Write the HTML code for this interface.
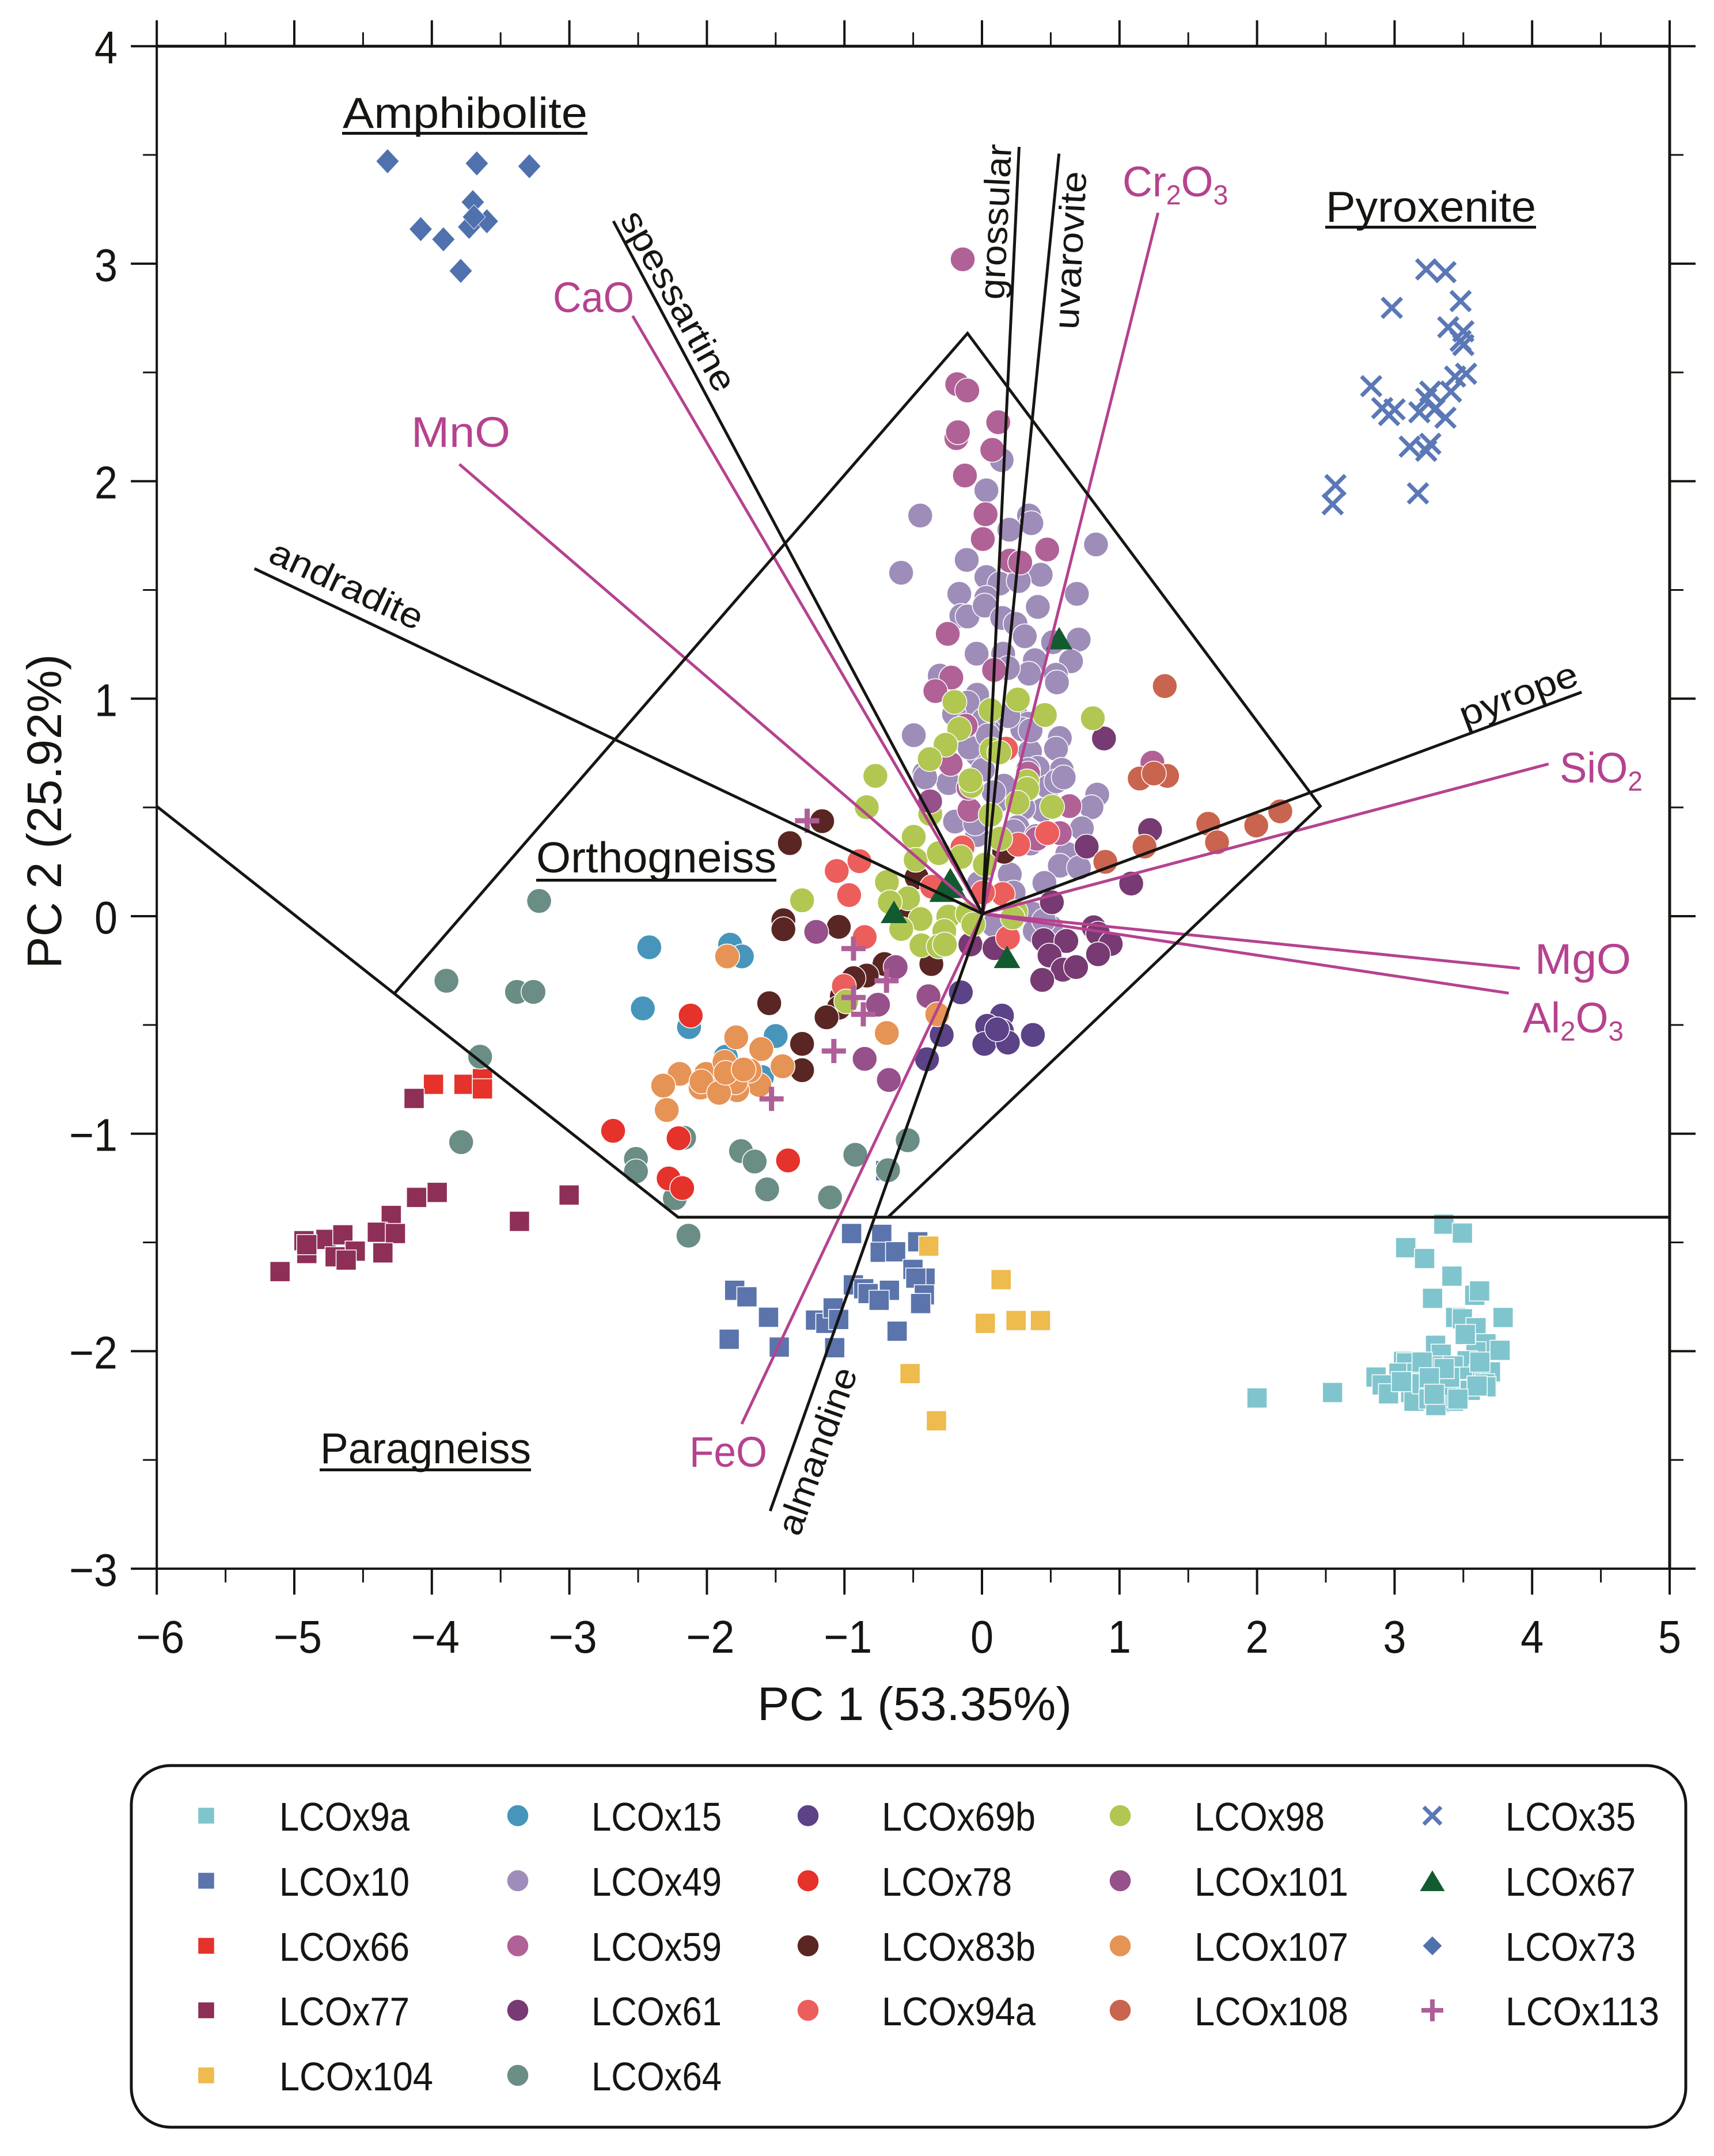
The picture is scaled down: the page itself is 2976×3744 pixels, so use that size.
<!DOCTYPE html>
<html lang="en">
<head>
<meta charset="utf-8">
<title>Garnet PCA biplot</title>
<style>
html,body{margin:0;padding:0;background:#fff;width:2976px;height:3744px;overflow:hidden}
svg{display:block}
text{font-family:"Liberation Sans",sans-serif;fill:#161512}
.ox{fill:#b5428f;font-size:74px}
.rock{font-size:75px}
.rot{font-size:62px}
</style>
</head>
<body>
<svg id="chart" xmlns="http://www.w3.org/2000/svg" width="2976" height="3744" viewBox="0 0 2976 3744">
<rect x="0" y="0" width="2976" height="3744" fill="#fff"/>
<g id="axes"></g>
<g id="marks"></g>
<g id="vectors"></g>
<g id="ticklabels"></g>

<text x="1588" y="2987" text-anchor="middle" font-size="82" textLength="546" lengthAdjust="spacingAndGlyphs">PC 1 (53.35%)</text>
<text transform="translate(106,1409) rotate(-90)" text-anchor="middle" font-size="84" textLength="546" lengthAdjust="spacingAndGlyphs">PC 2 (25.92%)</text>

<text class="rock" x="595" y="222" textLength="425" lengthAdjust="spacingAndGlyphs">Amphibolite</text>
<rect x="594" y="229" width="426" height="5" fill="#161512"/>
<text class="rock" x="2302" y="385" textLength="365" lengthAdjust="spacingAndGlyphs">Pyroxenite</text>
<rect x="2301" y="392" width="366" height="5" fill="#161512"/>
<text class="rock" x="931" y="1515" textLength="417" lengthAdjust="spacingAndGlyphs">Orthogneiss</text>
<rect x="931" y="1526" width="417" height="5" fill="#161512"/>
<text class="rock" x="556" y="2541" textLength="366" lengthAdjust="spacingAndGlyphs">Paragneiss</text>
<rect x="555" y="2550" width="367" height="5" fill="#161512"/>

<text class="ox" x="960" y="542" textLength="141" lengthAdjust="spacingAndGlyphs">CaO</text>
<text class="ox" x="714" y="776" textLength="172" lengthAdjust="spacingAndGlyphs">MnO</text>
<text class="ox" x="2665" y="1691" textLength="167" lengthAdjust="spacingAndGlyphs">MgO</text>
<text class="ox" x="1197" y="2547" textLength="135" lengthAdjust="spacingAndGlyphs">FeO</text>
<text class="ox" transform="translate(1949,341) scale(.97,1)">Cr<tspan font-size="48" dy="14">2</tspan><tspan dy="-14">O</tspan><tspan font-size="48" dy="14">3</tspan></text>
<text class="ox" transform="translate(2708,1359) scale(.96,1)">SiO<tspan font-size="48" dy="14">2</tspan></text>
<text class="ox" transform="translate(2644,1793) scale(.99,1)">Al<tspan font-size="48" dy="14">2</tspan><tspan dy="-14">O</tspan><tspan font-size="48" dy="14">3</tspan></text>

<text class="rot" transform="translate(1075,380) rotate(61)" textLength="349" lengthAdjust="spacingAndGlyphs">spessartine</text>
<text class="rot" transform="translate(1743,521) rotate(-87.2)" textLength="270" lengthAdjust="spacingAndGlyphs">grossular</text>
<text class="rot" transform="translate(1872,573) rotate(-87)" textLength="275" lengthAdjust="spacingAndGlyphs">uvarovite</text>
<text class="rot" transform="translate(463,974) rotate(25)" textLength="287" lengthAdjust="spacingAndGlyphs">andradite</text>
<text class="rot" transform="translate(2543,1263) rotate(-20.5)" textLength="215" lengthAdjust="spacingAndGlyphs">pyrope</text>
<text class="rot" transform="translate(1388,2670) rotate(-70.5)" textLength="304" lengthAdjust="spacingAndGlyphs">almandine</text>

<rect x="228" y="3066" width="2699" height="628" rx="68" ry="68" fill="none" stroke="#161512" stroke-width="5"/>
<g id="legend"></g>
</svg>

<script>
// ---- axis tick values ----
const xTickValues = [-6,-5,-4,-3,-2,-1,0,1,2,3,4,5];
const yTickValues = [-3,-2,-1,0,1,2,3,4];
const xTickLabels = ['\u22126','\u22125','\u22124','\u22123','\u22122','\u22121','0','1','2','3','4','5'];
const yTickLabels = ['\u22123','\u22122','\u22121','0','1','2','3','4'];

// ---- series values: [PC1, PC2] ----
const LCOx9a = [[3.358,-1.416],[3.493,-1.457],[3.081,-1.524],[3.218,-1.574],[3.417,-1.655],[3.583,-1.743],[3.618,-1.723],[3.276,-1.757],[3.444,-1.845],[3.493,-1.851],[3.592,-1.892],[3.789,-1.845],[3.664,-1.966],[3.767,-1.996],[3.298,-1.973],[3.339,-2.014],[3.592,-2.003],[3.514,-1.923],[3.065,-2.047],[3.087,-2.054],[3.527,-2.044],[3.289,-2.068],[3.426,-2.068],[2.865,-2.119],[3.032,-2.101],[3.162,-2.101],[2.91,-2.155],[3.614,-2.108],[3.697,-2.095],[3.493,-2.119],[3.655,-2.15],[3.664,-2.164],[3.114,-2.149],[3.117,-2.19],[2.956,-2.196],[3.466,-2.176],[3.141,-2.23],[3.332,-2.236],[3.429,-2.23],[3.2,-2.15],[3.35,-2.16],[3.38,-2.21],[3.55,-2.18],[3.6,-2.16],[3.25,-2.22],[3.05,-2.14],[3.4,-2.12],[3.36,-2.08],[3.2,-2.05],[3.62,-2.05],[3.3,-2.25],[3.46,-2.22],[3.253,-2.122],[3.289,-2.198],[2.549,-2.19],[2.0,-2.215]];
const LCOx10 = [[-.948,-1.459],[-.729,-1.463],[-.467,-1.497],[-.74,-1.545],[-.628,-1.543],[-.502,-1.624],[-.414,-1.664],[-.481,-1.664],[-.935,-1.695],[-.86,-1.713],[-.828,-1.735],[-.673,-1.72],[-.748,-1.766],[-.419,-1.741],[-.446,-1.781],[-1.798,-1.72],[-1.709,-1.75],[-1.552,-1.844],[-1.838,-1.945],[-1.474,-1.981],[-1.21,-1.857],[-1.135,-1.872],[-1.082,-1.801],[-1.042,-1.854],[-1.071,-1.984],[-.617,-1.908],[-.7,-1.17]];
const LCOx66 = [[-3.988,-.773],[-3.766,-.773],[-3.632,-.747],[-3.632,-.794]];
const LCOx77 = [[-4.129,-.838],[-4.111,-1.293],[-3.961,-1.27],[-3.002,-1.282],[-3.363,-1.403],[-4.295,-1.376],[-4.396,-1.453],[-4.265,-1.459],[-4.356,-1.548],[-4.93,-1.492],[-4.77,-1.486],[-4.647,-1.465],[-4.909,-1.551],[-4.703,-1.566],[-4.557,-1.54],[-4.623,-1.581],[-5.104,-1.634],[-4.909,-1.51]];
const LCOx104 = [[-.387,-1.517],[.139,-1.671],[.024,-1.872],[.248,-1.859],[.425,-1.859],[-.523,-2.103],[-.331,-2.32]];
const LCOx15 = [[-2.419,-.143],[-1.831,-.131],[-1.746,-.185],[-2.466,-.424],[-2.13,-.51],[-1.5,-.551],[-1.863,-.646],[-1.6,-.74]];
const LCOx49 = [[.143,2.097],[.032,1.958],[-.449,1.842],[.342,1.842],[.359,1.807],[.199,1.777],[.829,1.709],[-.588,1.579],[-.111,1.638],[.032,1.559],[.427,1.57],[.128,1.529],[.267,1.541],[-.165,1.482],[.032,1.464],[.406,1.422],[.69,1.482],[-.15,1.381],[-.105,1.378],[.02,1.428],[.147,1.371],[.244,1.344],[.311,1.287],[.703,1.272],[-.039,1.207],[.154,1.207],[.517,1.26],[.385,1.177],[.647,1.172],[.342,1.115],[.538,1.11],[.545,1.075],[.189,1.141],[-.307,1.106],[-.035,1.018],[-.105,.982],[-.203,.929],[.063,.929],[.244,.929],[.335,.885],[.293,.859],[.07,.868],[-.496,.832],[.566,.819],[.538,.77],[.349,.757],[-.035,.744],[-.091,.775],[.58,.673],[.405,.682],[.335,.673],[-.419,.656],[.007,.673],[-.196,.435],[-.035,.373],[.161,.585],[.838,.559],[.796,.501],[.726,.404],[.677,.272],[.62,.286],[.566,.232],[.705,.223],[.454,.153],[.202,.192],[.23,.109],[.37,.011],[.084,-.041],[.384,-.068],[-.021,.153],[.482,.594],[-.244,.612],[-.413,.638],[.54,.62],[.594,.638],[.44,.488],[.3,.497],[.119,.532],[.258,.409],[-.049,.426],[.23,.391],[.16,.6],[.085,.57],[.011,.902],[.192,.92],[.353,.854],[.043,.831],[.353,.334],[.395,.369],[.5,-.05],[.45,-.02]];
const LCOx59 = [[-.18,2.446],[-.107,2.417],[.118,2.271],[-.186,2.198],[-.175,2.225],[.075,2.144],[-.124,2.026],[.026,1.848],[.006,1.734],[.474,1.686],[.203,1.635],[.278,1.626],[-.249,1.298],[.088,1.132],[-.223,1.097],[-.339,1.035],[-.119,.876],[-.228,.7],[.335,.656],[-.091,.488],[-.098,.59],[.636,.506],[.566,.382],[.398,.356],[1.239,.706],[-.14,3.02]];
const LCOx61 = [[.887,.817],[1.222,.396],[.761,.32],[1.085,.15],[.508,.064],[.812,-.051],[.844,-.08],[.936,-.128],[.449,-.11],[.613,-.114],[.491,-.181],[.844,-.175],[.588,-.246],[.684,-.234],[.438,-.293],[-.084,-.13],[.091,-.147]];
const LCOx64 = [[-3.894,-.297],[-3.381,-.348],[-3.261,-.348],[-3.649,-.646],[-3.787,-1.039],[-2.516,-1.116],[-2.516,-1.173],[-2.166,-1.019],[-2.233,-1.297],[-1.752,-1.08],[-1.653,-1.128],[-1.562,-1.256],[-2.134,-1.469],[-1.105,-1.293],[-.921,-1.097],[-.683,-1.168],[-.54,-1.03],[-3.22,.07]];
const LCOx69b = [[-.154,-.35],[.145,-.457],[.038,-.504],[.145,-.528],[.017,-.587],[.188,-.581],[.11,-.52],[.37,-.546],[-.293,-.546],[-.4,-.658]];
const LCOx78 = [[-2.118,-.457],[-2.682,-.987],[-2.206,-1.021],[-2.278,-1.206],[-2.18,-1.25],[-1.41,-1.123]];
const LCOx83b = [[-1.162,.437],[-1.397,.336],[-.475,.179],[-1.444,-.019],[-1.444,-.06],[-1.041,-.049],[-.709,-.22],[-.838,-.273],[-.934,-.285],[-1.019,-.368],[-1.041,-.421],[-1.13,-.465],[-1.547,-.4],[-1.308,-.587],[-1.308,-.708],[-.368,-.22],[.161,.296],[-.552,.016]];
const LCOx94a = [[-.891,.253],[-1.056,.208],[-.966,.097],[-.853,-.096],[-1.004,-.321],[-.142,.316],[.475,.382],[.263,.329],[-.363,.135],[.151,.102],[.189,-.099],[.175,.77],[.007,.109]];
const LCOx98 = [[-.775,.645],[-.838,.501],[-.2,.985],[.063,.947],[.261,.996],[.457,.925],[.806,.91],[-.165,.861],[-.265,.788],[-.38,.722],[.07,.766],[.126,.753],[-.077,.599],[.328,.62],[-.084,.625],[.328,.585],[.258,.522],[.063,.466],[.51,.503],[-.376,.47],[-.496,.365],[-.482,.259],[-.314,.29],[-.154,.272],[.021,.237],[.133,.356],[-.691,.157],[-.537,.082],[-.67,.064],[-.447,-.013],[-.245,-.002],[-.105,.011],[-.587,-.059],[-.274,-.068],[-.063,-.037],[-.44,-.134],[-.315,-.139],[-.27,-.13],[.245,.02],[.223,-.006],[-1.308,.073],[-.987,-.392]];
const LCOx101 = [[-1.205,-.072],[-.628,-.234],[-.756,-.407],[-.389,-.368],[-.853,-.656],[-.677,-.753],[-.377,.528]];
const LCOx107 = [[-1.853,-.185],[-.325,-.451],[-.692,-.537],[-1.787,-.557],[-1.605,-.611],[-1.45,-.69],[-2.198,-.725],[-2.318,-.779],[-2.006,-.725],[-2.292,-.891],[-2.046,-.788],[-1.886,-.788],[-1.619,-.776],[-2.04,-.76],[-1.69,-.71],[-1.78,-.8],[-1.872,-.67],[-1.792,-.764],[-1.912,-.812],[-1.863,-.72],[-1.733,-.705]];
const LCOx108 = [[1.329,1.058],[1.147,.633],[1.346,.645],[1.25,.656],[1.645,.425],[1.994,.417],[2.169,.482],[1.709,.34],[1.182,.32],[.897,.25]];
const LCOx35 = [[3.23,2.974],[3.37,2.961],[2.98,2.797],[3.48,2.828],[3.39,2.708],[3.5,2.689],[3.48,2.645],[3.5,2.626],[2.83,2.437],[3.52,2.494],[3.44,2.481],[3.41,2.412],[3.26,2.412],[3.23,2.38],[3.0,2.33],[2.91,2.336],[2.96,2.304],[3.29,2.33],[3.18,2.317],[3.37,2.292],[3.11,2.159],[3.26,2.172],[3.23,2.14],[3.17,1.944],[2.57,1.982],[2.55,1.894]];
const LCOx67 = [[.561,1.278],[-.64,.02],[-.23,.17],[-.21,.135],[-.287,.117],[.182,-.187]];
const LCOx73 = [[-4.322,3.471],[-3.673,3.461],[-3.291,3.448],[-3.702,3.283],[-4.081,3.159],[-3.916,3.112],[-3.729,3.169],[-3.6,3.195],[-3.694,3.215],[-3.79,2.967]];
const LCOx113 = [[-1.271,.439],[-.934,-.149],[-.694,-.297],[-.934,-.374],[-.863,-.451],[-1.077,-.62],[-1.53,-.84]];

// ---- biplot end points (PC1, PC2) ----
const vectorOrigin = [.004,.011];
const endmemberNames = ['andradite','spessartine','grossular','uvarovite','pyrope','almandine'];
const endmemberEnds = [[-5.29,1.598],[-2.68,3.196],[.27,3.537],[.56,3.506],[4.36,1.03],[-1.54,-2.735]];
const oxideNames = ['cao','mno','cr2o3','sio2','mgo','al2o3','feo'];
const oxideEnds = [[-2.54,2.76],[-3.8,2.078],[1.28,3.234],[4.12,.70],[3.91,-.24],[3.83,-.354],[-1.747,-2.335]];
// ---- field boundaries (PC1, PC2) ----
const orthogneissField = [[-4.27,-.354],[-.105,2.68],[2.46,.506],[-.683,-1.384]];
const paragneissBoundary = [[-6,.505],[-2.21,-1.384],[5,-1.384]];

// ---- series registry, in draw order ----
const seriesNames = ['LCOx9a','LCOx10','LCOx66','LCOx77','LCOx104','LCOx15','LCOx49','LCOx59','LCOx61','LCOx64','LCOx69b','LCOx78','LCOx83b','LCOx94a','LCOx98','LCOx101','LCOx107','LCOx108','LCOx35','LCOx67','LCOx73','LCOx113'];
const seriesValues = [LCOx9a,LCOx10,LCOx66,LCOx77,LCOx104,LCOx15,LCOx49,LCOx59,LCOx61,LCOx64,LCOx69b,LCOx78,LCOx83b,LCOx94a,LCOx98,LCOx101,LCOx107,LCOx108,LCOx35,LCOx67,LCOx73,LCOx113];
const seriesColors = ['#80c5cd','#5b74ac','#e5322a','#8e2f58','#edbb4e','#4795bb','#9e8db9','#b06297','#773a72','#6a8d85','#5c4287','#e5322a','#5a2623','#ec5e5c','#b1c752','#96508a','#e69356','#c9644f','#5a78b6','#125a2f','#4f71ad','#ae5f98'];
const seriesShapes = ['square','square','square','square','square','circle','circle','circle','circle','circle','circle','circle','circle','circle','circle','circle','circle','circle','cross','triangle','diamond','plus'];
const legendColumns = [['LCOx9a','LCOx10','LCOx66','LCOx77','LCOx104'],['LCOx15','LCOx49','LCOx59','LCOx61','LCOx64'],['LCOx69b','LCOx78','LCOx83b','LCOx94a'],['LCOx98','LCOx101','LCOx107','LCOx108'],['LCOx35','LCOx67','LCOx73','LCOx113']];

// ---- axis functions ----
const xScale = v => 1705 + 238.8 * v;
const yScale = v => 1591 - 377.7 * v;

const NS = 'http://www.w3.org/2000/svg';
const ink = '#161512';
function make(parent, tag, attrs){
  const el = document.createElementNS(NS, tag);
  for (const k in attrs) el.setAttribute(k, attrs[k]);
  parent.appendChild(el);
  return el;
}
function pointsAttr(list){
  return list.map(p => xScale(p[0]).toFixed(1) + ',' + yScale(p[1]).toFixed(1)).join(' ');
}

// ---- axes ----
const axesG = document.getElementById('axes');
const xLeft = xScale(-6), xRight = xScale(5), yTop = yScale(4), yBottom = yScale(-3);
function axisLine(x1,y1,x2,y2,w,name){
  const el = make(axesG,'line',{x1:x1,y1:y1,x2:x2,y2:y2,stroke:ink,'stroke-width':w});
  
  
}
axisLine(xLeft,yTop,xLeft,yBottom,4,'left-spine');
axisLine(xRight,yTop,xRight,yBottom,5,'right-spine');
axisLine(xLeft,yTop,xRight,yTop,5,'top-spine');
axisLine(xLeft,yBottom,xRight,yBottom,4,'bottom-spine');
for (let v = -6; v <= 5.001; v += 0.5){
  const major = Math.abs(v - Math.round(v)) < 1e-6;
  const len = major ? 45 : 24;
  const px = xScale(v);
  axisLine(px,yBottom,px,yBottom+len,major?4:3,'x-tick-bottom');
  axisLine(px,yTop,px,yTop-len,major?4:3,'x-tick-top');
}
for (let v = -3; v <= 4.001; v += 0.5){
  const major = Math.abs(v - Math.round(v)) < 1e-6;
  const len = major ? 45 : 24;
  const py = yScale(v);
  axisLine(xLeft,py,xLeft-len,py,major?4:3,'y-tick-left');
  axisLine(xRight,py,xRight+len,py,major?4:3,'y-tick-right');
}

// ---- tick labels ----
const tickG = document.getElementById('ticklabels');
xTickValues.forEach((v,i) => {
  const neg = v < 0;
  const t = make(tickG,'text',{x:xScale(v)+(neg?6:0),y:yBottom+146,'text-anchor':'middle','font-size':80,textLength:neg?84:40,lengthAdjust:'spacingAndGlyphs'});
  t.textContent = xTickLabels[i];
  
  
});
yTickValues.forEach((v,i) => {
  const neg = v < 0;
  const t = make(tickG,'text',{x:204,y:yScale(v)+30,'text-anchor':'end','font-size':80,textLength:neg?84:40,lengthAdjust:'spacingAndGlyphs'});
  t.textContent = yTickLabels[i];
  
  
});

// ---- markers ----
function drawMarker(parent, shape, cx, cy, color, size){
  let el;
  if (shape === 'square'){
    el = make(parent,'rect',{x:cx-size.s/2,y:cy-size.s/2,width:size.s,height:size.s,fill:color,stroke:'#fff','stroke-width':1.5});
  } else if (shape === 'circle'){
    el = make(parent,'circle',{cx:cx,cy:cy,r:size.c/2,fill:color,stroke:'#fff','stroke-width':1.5});
  } else if (shape === 'triangle'){
    const w = size.tw/2, h = size.th/2;
    el = make(parent,'polygon',{points:(cx)+','+(cy-h)+' '+(cx+w)+','+(cy+h)+' '+(cx-w)+','+(cy+h),fill:color});
  } else if (shape === 'diamond'){
    const w = size.dw/2, h = size.dh/2;
    el = make(parent,'polygon',{points:cx+','+(cy-h)+' '+(cx+w)+','+cy+' '+cx+','+(cy+h)+' '+(cx-w)+','+cy,fill:color,stroke:'#fff','stroke-width':.8});
  } else if (shape === 'plus'){
    const a = size.p/2;
    el = make(parent,'path',{d:'M'+(cx-a)+' '+cy+'H'+(cx+a)+'M'+cx+' '+(cy-a)+'V'+(cy+a),fill:'none',stroke:color,'stroke-width':size.pw});
  } else {
    const a = size.x/2;
    el = make(parent,'path',{d:'M'+(cx-a)+' '+(cy-a)+'L'+(cx+a)+' '+(cy+a)+'M'+(cx-a)+' '+(cy+a)+'L'+(cx+a)+' '+(cy-a),fill:'none',stroke:color,'stroke-width':size.xw});
  }
  return el;
}
const chartSize = {s:35,c:43,tw:46,th:39,dw:40,dh:43,p:42,pw:9,x:34,xw:7};
const legendSize = {s:29,c:38,tw:43,th:36,dw:34,dh:34,p:38,pw:8,x:30,xw:7};

const marksG = document.getElementById('marks');
seriesNames.forEach((name,i) => {
  const g = make(marksG,'g',{});
  
  
  seriesValues[i].forEach(p => {
    const el = drawMarker(g, seriesShapes[i], xScale(p[0]), yScale(p[1]), seriesColors[i], chartSize);
    
    
  });
});

// ---- vectors and boundaries ----
const vecG = document.getElementById('vectors');
function vectorLine(end, color, w, name){
  const el = make(vecG,'line',{x1:xScale(vectorOrigin[0]),y1:yScale(vectorOrigin[1]),x2:xScale(end[0]),y2:yScale(end[1]),stroke:color,'stroke-width':w});
  
  
}
oxideEnds.forEach((e,i) => vectorLine(e,'#b5428f',5,oxideNames[i] + '-vector'));
endmemberEnds.forEach((e,i) => vectorLine(e,ink,5,endmemberNames[i] + '-vector'));
const fieldA = make(vecG,'polyline',{points:pointsAttr(orthogneissField),fill:'none',stroke:ink,'stroke-width':5,'stroke-linejoin':'miter'});


const fieldB = make(vecG,'polyline',{points:pointsAttr(paragneissBoundary),fill:'none',stroke:ink,'stroke-width':5});



// ---- legend ----
const legendG = document.getElementById('legend');
const legendMarkerX = [358,899,1403,1945,2487];
const legendTextX = [485,1027,1531,2074,2614];
const legendRowY = [3153,3266,3379,3491,3604];
legendColumns.forEach((col,c) => {
  col.forEach((name,r) => {
    const i = seriesNames.indexOf(name);
    const g = make(legendG,'g',{});
    
    
    const m = drawMarker(g, seriesShapes[i], legendMarkerX[c], legendRowY[r], seriesColors[i], legendSize);
    
    
    const t = make(g,'text',{x:legendTextX[c],y:legendRowY[r]+26,'font-size':70,textLength:name.length===6?226:267,lengthAdjust:'spacingAndGlyphs'});
    t.textContent = name;
    
    
  });
});
</script>
</body>
</html>
